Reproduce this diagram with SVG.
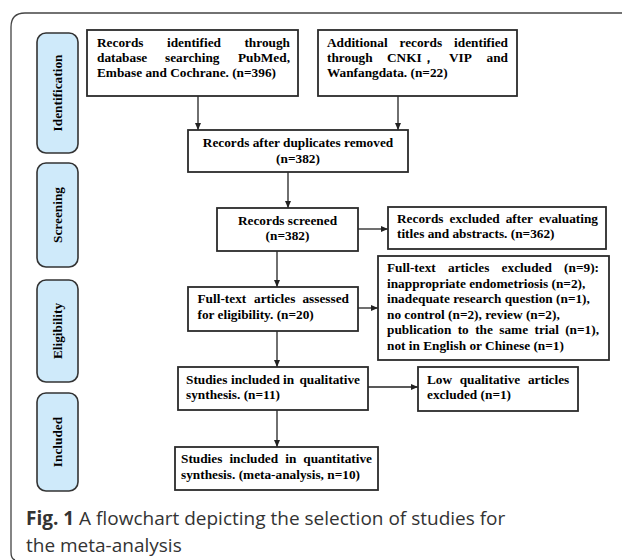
<svg xmlns="http://www.w3.org/2000/svg" width="622" height="560" viewBox="0 0 622 560">
<style>
.box{fill:#fff;stroke:#2b2b2b;stroke-width:1.8}
.side{fill:#cfeafa;stroke:#333;stroke-width:1.6}
.t{font-family:"Liberation Serif","Times New Roman",serif;font-weight:bold;font-size:13.3px;fill:#000}
.e{text-anchor:end}
.m{text-anchor:middle}
.c{stroke:#222;stroke-width:1.3;fill:none;marker-end:url(#ah)}
.cap{font-family:"Open Sans","Noto Sans",sans-serif;font-size:19px;fill:#333}
</style>
<defs>
<marker id="ah" markerWidth="8" markerHeight="8" refX="7" refY="4" orient="auto" markerUnits="userSpaceOnUse">
<path d="M0,1 L7,4 L0,7 Z" fill="#222"/>
</marker>
</defs>
<rect width="622" height="560" fill="#fff"/>
<path d="M622,13 H25 Q11,13 11,27 V552 Q11,559 15,560" fill="none" stroke="#444" stroke-width="1.3"/>

<g id="side-identification"><rect class="side" x="37" y="33" width="41" height="120" rx="9"/><text class="t m" transform="translate(62,93) rotate(-90)">Identification</text></g>
<g id="side-screening"><rect class="side" x="37" y="163" width="41" height="104" rx="9"/><text class="t m" transform="translate(62,215) rotate(-90)">Screening</text></g>
<g id="side-eligibility"><rect class="side" x="37" y="280" width="41" height="102" rx="9"/><text class="t m" transform="translate(62,331) rotate(-90)">Eligibility</text></g>
<g id="side-included"><rect class="side" x="37" y="393" width="41" height="98" rx="9"/><text class="t m" transform="translate(62,442) rotate(-90)">Included</text></g>

<g id="connectors">
<line class="c" x1="198" y1="96" x2="198" y2="130"/>
<line class="c" x1="398" y1="96" x2="398" y2="130"/>
<line class="c" x1="288" y1="172" x2="288" y2="208"/>
<line class="c" x1="358" y1="229" x2="388" y2="229"/>
<line class="c" x1="277" y1="251" x2="277" y2="287"/>
<line class="c" x1="358" y1="308" x2="378" y2="308"/>
<line class="c" x1="277" y1="331" x2="277" y2="367"/>
<line class="c" x1="368" y1="387" x2="418" y2="387"/>
<line class="c" x1="277" y1="410" x2="277" y2="447"/>
</g>

<g id="n1"><rect class="box" x="87" y="30" width="211" height="66"/>
<text class="t" y="47"><tspan x="97">Records</tspan><tspan x="167">identified</tspan><tspan x="290" class="e">through</tspan></text>
<text class="t" y="62"><tspan x="97">database</tspan><tspan x="165">searching</tspan><tspan x="290" class="e">PubMed,</tspan></text>
<text class="t" x="97" y="77">Embase and Cochrane. (n=396)</text></g>

<g id="n2"><rect class="box" x="318" y="30" width="199" height="66"/>
<text class="t" y="47"><tspan x="327">Additional</tspan><tspan x="399.5">records</tspan><tspan x="508" class="e">identified</tspan></text>
<text class="t" y="62"><tspan x="327">through</tspan><tspan x="387">CNKI，</tspan><tspan x="449">VIP</tspan><tspan x="508" class="e">and</tspan></text>
<text class="t" x="327" y="77">Wanfangdata. (n=22)</text></g>

<g id="n3"><rect class="box" x="188" y="130" width="220" height="42"/>
<text class="t m" x="298" y="147">Records after duplicates removed</text>
<text class="t m" x="298" y="163">(n=382)</text></g>

<g id="n4"><rect class="box" x="217" y="208" width="141" height="43"/>
<text class="t m" x="287.5" y="225">Records screened</text>
<text class="t m" x="287.5" y="240">(n=382)</text></g>

<g id="n5"><rect class="box" x="388" y="207" width="218" height="42"/>
<text class="t" y="223"><tspan x="397">Records</tspan><tspan x="449.5">excluded</tspan><tspan x="505.7">after</tspan><tspan x="598" class="e">evaluating</tspan></text>
<text class="t" x="397" y="238">titles and abstracts. (n=362)</text></g>

<g id="n6"><rect class="box" x="188" y="287" width="170" height="44"/>
<text class="t" y="303"><tspan x="197.5">Full-text</tspan><tspan x="254">articles</tspan><tspan x="349" class="e">assessed</tspan></text>
<text class="t" x="197.5" y="318.5">for eligibility. (n=20)</text></g>

<g id="n7"><rect class="box" x="378" y="256" width="231" height="104"/>
<text class="t" y="272"><tspan x="387">Full-text</tspan><tspan x="448">articles</tspan><tspan x="501.6">excluded</tspan><tspan x="599" class="e">(n=9):</tspan></text>
<text class="t" x="387" y="287.5">inappropriate endometriosis (n=2),</text>
<text class="t" x="387" y="303">inadequate research question (n=1),</text>
<text class="t" x="387" y="318.5">no control (n=2), review (n=2),</text>
<text class="t" y="334"><tspan x="387">publication</tspan><tspan x="457.7">to</tspan><tspan x="475.2">the</tspan><tspan x="499.3">same</tspan><tspan x="534.5">trial</tspan><tspan x="599" class="e">(n=1),</tspan></text>
<text class="t" x="387" y="349.5">not in English or Chinese (n=1)</text></g>

<g id="n8"><rect class="box" x="178" y="367" width="190" height="43"/>
<text class="t" y="383.5"><tspan x="186">Studies</tspan><tspan x="231">included</tspan><tspan x="283">in</tspan><tspan x="360" class="e">qualitative</tspan></text>
<text class="t" x="186" y="398.5">synthesis. (n=11)</text></g>

<g id="n9"><rect class="box" x="418" y="367" width="160" height="44"/>
<text class="t" y="383.5"><tspan x="427">Low</tspan><tspan x="459.7">qualitative</tspan><tspan x="569.3" class="e">articles</tspan></text>
<text class="t" x="427" y="398.5">excluded (n=1)</text></g>

<g id="n10"><rect class="box" x="175" y="447" width="203" height="43"/>
<text class="t" y="463"><tspan x="181">Studies</tspan><tspan x="229.4">included</tspan><tspan x="285.2">in</tspan><tspan x="372" class="e">quantitative</tspan></text>
<text class="t" x="181" y="478.5">synthesis. (meta-analysis, n=10)</text></g>

<g id="caption">
<text class="cap" x="26" y="525"><tspan font-weight="bold">Fig. 1</tspan> A flowchart depicting the selection of studies for</text>
<text class="cap" x="26" y="552">the meta-analysis</text>
</g>
</svg>
